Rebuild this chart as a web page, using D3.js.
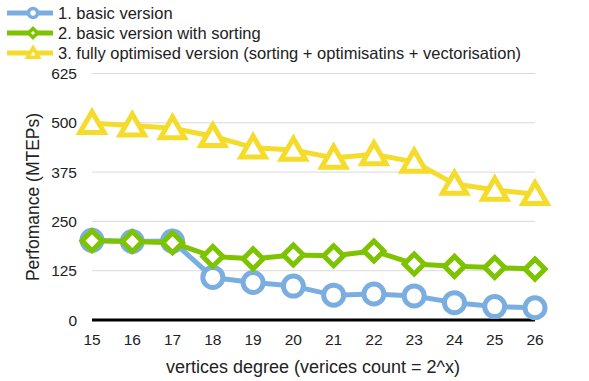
<!DOCTYPE html>
<html>
<head>
<meta charset="utf-8">
<script src="https://cdn.jsdelivr.net/npm/d3@7"></script>
<style>
  body { margin: 0; background: #fff; }
  text { font-family: "Liberation Sans", Arial, sans-serif; fill: #222; }
</style>
</head>
<body>
<main></main>
<script>
// datos
const degrees = [15, 16, 17, 18, 19, 20, 21, 22, 23, 24, 25, 26];
const basic = [202, 199, 200, 108, 95, 86, 63, 66, 61, 44, 34, 31];
const sorting = [201, 199, 196, 161, 155, 165, 163, 175, 142, 136, 133, 129];
const optimised = [499, 493, 486, 466, 437, 431, 411, 420, 401, 345, 330, 319];
const yTicks = [0, 125, 250, 375, 500, 625];
const seriesNames = [
  "1. basic version",
  "2. basic version with sorting",
  "3. fully optimised version (sorting + optimisatins + vectorisation)"
];
const colors = ["#7baee0", "#7dc300", "#f5dc2c"];

const w = 589, h = 381;

const svg = d3.select('main')
  .append('svg')
  .attr('width', w)
  .attr('height', h);

// escalas
const x = d3.scalePoint().domain(degrees).range([92, 535]);
const y = d3.scaleLinear().domain([0, 625]).range([320, 73.5]);

// rejilla
svg.append('g')
  .selectAll('line')
  .data(yTicks.filter(d => d > 0))
  .enter()
  .append('line')
  .attr('x1', 92).attr('x2', 535)
  .attr('y1', d => y(d)).attr('y2', d => y(d))
  .attr('stroke', '#d9d9d9')
  .attr('stroke-width', 1);

// eje y
svg.append('g')
  .selectAll('text')
  .data(yTicks)
  .enter()
  .append('text')
  .attr('x', 77)
  .attr('y', d => y(d) + 5.5)
  .attr('text-anchor', 'end')
  .style('font-size', '15.5px')
  .text(d => d);

// eje x
svg.append('line')
  .attr('x1', 92).attr('x2', 535)
  .attr('y1', y(0)).attr('y2', y(0))
  .attr('stroke', '#000')
  .attr('stroke-width', 3);

svg.append('g')
  .selectAll('text')
  .data(degrees)
  .enter()
  .append('text')
  .attr('x', d => x(d))
  .attr('y', 345)
  .attr('text-anchor', 'middle')
  .style('font-size', '15.5px')
  .text(d => d);

// títulos de ejes
svg.append('text')
  .attr('x', 313)
  .attr('y', 373)
  .attr('text-anchor', 'middle')
  .style('font-size', '18px')
  .text('vertices degree (verices count = 2^x)');

svg.append('text')
  .attr('transform', 'translate(39,197) rotate(-90)')
  .attr('text-anchor', 'middle')
  .style('font-size', '17.5px')
  .text('Perfomance (MTEPs)');

// marcadores
function marker(g, type, size, color, sw) {
  if (type === 0) {
    g.append('circle').attr('r', size).attr('fill', '#fff')
      .attr('stroke', color).attr('stroke-width', sw);
  } else if (type === 1) {
    const s = size;
    g.append('path').attr('d', `M0,${-s}L${s},0L0,${s}L${-s},0Z`)
      .attr('fill', '#fff').attr('stroke', color).attr('stroke-width', sw)
      .attr('stroke-linejoin', 'miter');
  } else {
    const s = size;
    g.append('path').attr('d', `M0,${-s * 1.05}L${s * 1.1},${s * 0.85}L${-s * 1.1},${s * 0.85}Z`)
      .attr('fill', '#fff').attr('stroke', color).attr('stroke-width', sw)
      .attr('stroke-linejoin', 'miter');
  }
}

const line = d3.line()
  .x((d, i) => x(degrees[i]))
  .y(d => y(d));

const allSeries = [basic, sorting, optimised];
const sizes = [10, 10, 11];

allSeries.forEach((vals, k) => {
  const g = svg.append('g');
  g.append('path')
    .datum(vals)
    .attr('d', line)
    .attr('fill', 'none')
    .attr('stroke', colors[k])
    .attr('stroke-width', 5)
    .attr('stroke-linejoin', 'round');
  vals.forEach((v, i) => {
    const m = g.append('g').attr('transform', `translate(${x(degrees[i])},${y(v)})`);
    marker(m, k, sizes[k], colors[k], 5);
  });
});

// leyenda
const legend = svg.append('g');
seriesNames.forEach((name, k) => {
  const ly = 13 + k * 20;
  legend.append('line')
    .attr('x1', 7).attr('x2', 53)
    .attr('y1', ly).attr('y2', ly)
    .attr('stroke', colors[k])
    .attr('stroke-width', 5);
  const m = legend.append('g').attr('transform', `translate(33,${ly})`);
  marker(m, k, k === 2 ? 5 : 4.5, colors[k], 3.5);
  legend.append('text')
    .attr('x', 58)
    .attr('y', ly + 6)
    .style('font-size', '16.5px')
    .text(name);
});
</script>
</body>
</html>
